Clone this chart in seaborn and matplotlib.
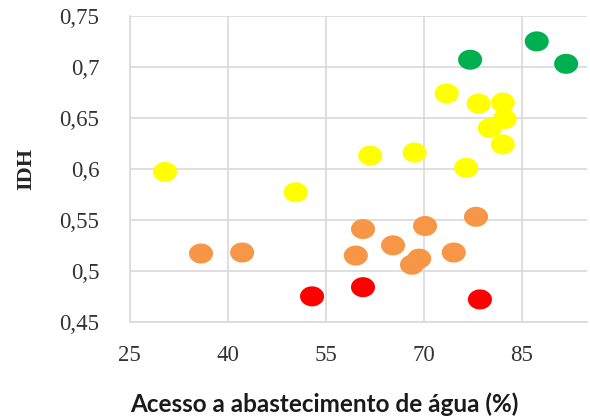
import matplotlib
matplotlib.use("Agg")
import matplotlib.pyplot as plt
from matplotlib.path import Path
from matplotlib.ticker import FuncFormatter
import numpy as np
import pandas as pd
import seaborn as sns

# acesso a abastecimento de agua (%) vs IDH, grouped by colour class
yellow_x = [30.4, 50.4, 61.8, 68.6, 73.5, 78.4, 82.1, 82.4, 80.1, 82.1, 76.5]
yellow_y = [0.597, 0.577, 0.613, 0.616, 0.674, 0.664, 0.665, 0.649, 0.640, 0.624, 0.601]
green_x = [77.1, 87.3, 91.8]
green_y = [0.707, 0.725, 0.703]
orange_x = [35.9, 42.2, 60.7, 59.6, 65.3, 70.2, 69.3, 68.2, 74.6, 78.0]
orange_y = [0.517, 0.518, 0.541, 0.515, 0.525, 0.544, 0.512, 0.506, 0.518, 0.553]
red_x = [52.9, 60.7, 78.6]
red_y = [0.475, 0.484, 0.472]

x_ticks = [25, 40, 55, 70, 85]
y_ticks = [0.45, 0.5, 0.55, 0.6, 0.65, 0.7, 0.75]

df = pd.concat([
    pd.DataFrame({'agua': yellow_x, 'idh': yellow_y, 'grupo': 'amarelo'}),
    pd.DataFrame({'agua': green_x, 'idh': green_y, 'grupo': 'verde'}),
    pd.DataFrame({'agua': orange_x, 'idh': orange_y, 'grupo': 'laranja'}),
    pd.DataFrame({'agua': red_x, 'idh': red_y, 'grupo': 'vermelho'}),
])
colors = {'amarelo': '#FFFF00', 'verde': '#00B050', 'laranja': '#F79646', 'vermelho': '#FF0000'}

# slightly wide ellipse marker like the excel points
t = np.linspace(0, 2 * np.pi, 60)
ellipse = Path(np.column_stack([0.6 * np.cos(t), 0.5 * np.sin(t)]), closed=True)

sns.set_style('white')
fig = plt.figure(figsize=(5.9, 4.18), dpi=100)
ax = fig.add_axes([0.22, 0.23, 0.775, 0.732])

sns.scatterplot(data=df, x='agua', y='idh', hue='grupo', palette=colors, marker=ellipse,
                s=300, linewidth=0, legend=False, ax=ax, zorder=3)

ax.set_xlim(25, 95)
ax.set_ylim(0.45, 0.75)
ax.set_xticks(x_ticks)
ax.set_yticks(y_ticks)
fmt = FuncFormatter(lambda v, p: ('%g' % v).replace('.', ','))
ax.xaxis.set_major_formatter(fmt)
ax.yaxis.set_major_formatter(fmt)
ax.grid(True, color='#D9D9D9', linewidth=1.2)
ax.set_axisbelow(True)
for s in ['top', 'right']:
    ax.spines[s].set_visible(False)
for s in ['left', 'bottom']:
    ax.spines[s].set_color('#D9D9D9')
    ax.spines[s].set_linewidth(1.2)
ax.tick_params(length=0, labelsize=16.5, labelcolor='#333333')
ax.tick_params(axis='y', pad=22)
ax.tick_params(axis='x', pad=17)
for lab in ax.get_xticklabels() + ax.get_yticklabels():
    lab.set_family('Liberation Serif')

ax.set_ylabel('IDH', fontsize=16, fontweight='bold', family='Liberation Serif')
ax.set_xlabel('Acesso a abastecimento de água (%)', fontsize=17.5, fontweight='bold',
              family='Lato', color='#1a1a1a', va='center')
ax.xaxis.set_label_coords(0.425, -0.27)
ax.yaxis.set_label_coords(-0.204, 0.5)

plt.savefig('out.png', dpi=100)
